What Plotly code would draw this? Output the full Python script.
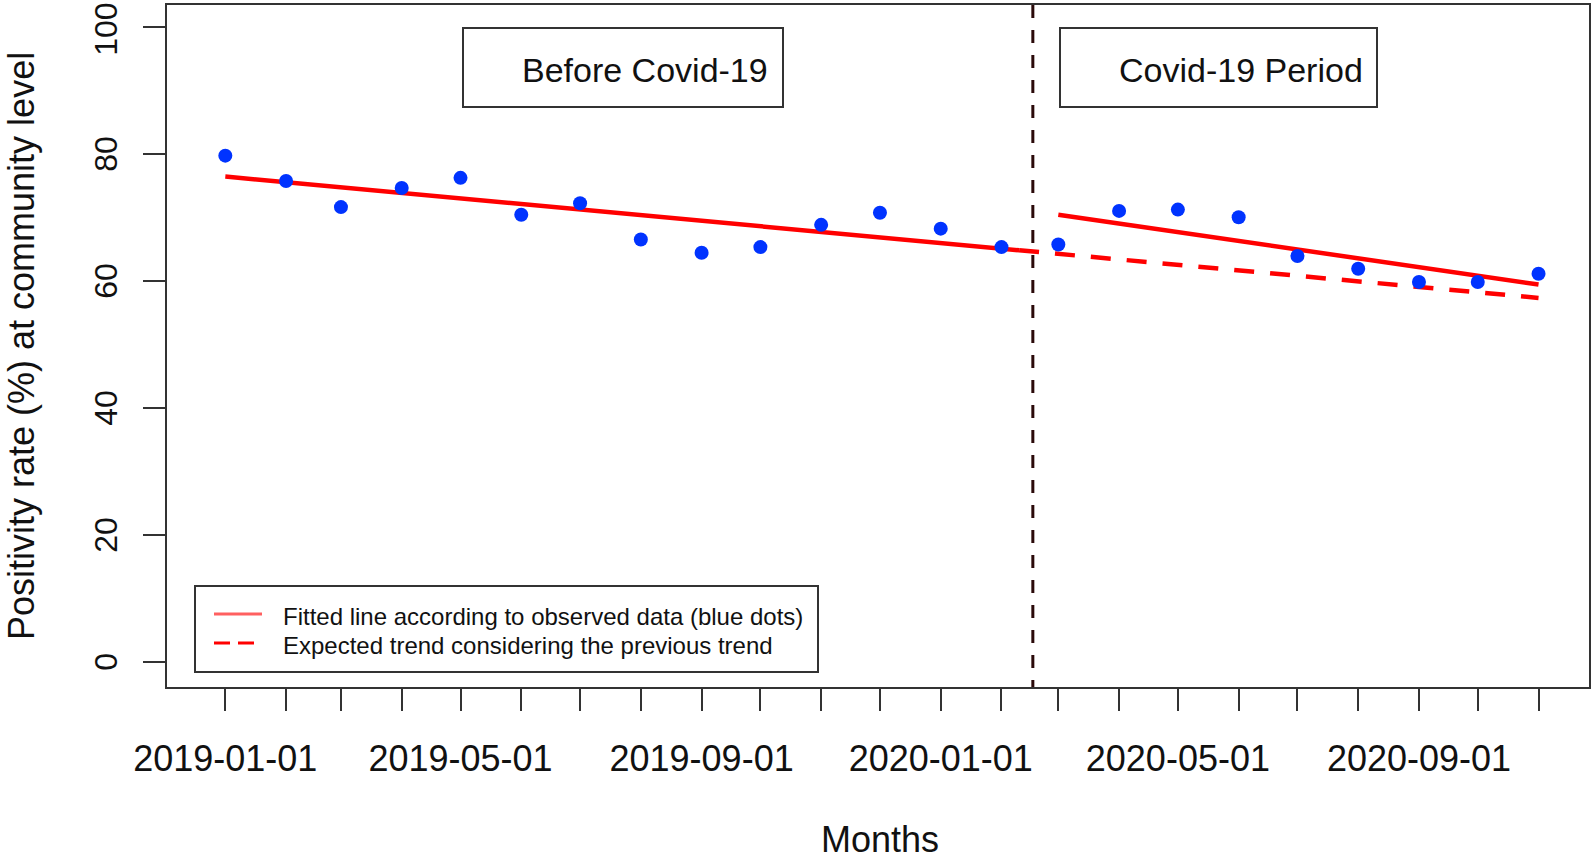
import plotly.graph_objects as go

# ---------------- data ----------------
month_dates = [
    "2019-01-01", "2019-02-01", "2019-03-01", "2019-04-01", "2019-05-01", "2019-06-01",
    "2019-07-01", "2019-08-01", "2019-09-01", "2019-10-01", "2019-11-01", "2019-12-01",
    "2020-01-01", "2020-02-01", "2020-03-01", "2020-04-01", "2020-05-01", "2020-06-01",
    "2020-07-01", "2020-08-01", "2020-09-01", "2020-10-01", "2020-11-01",
]
positivity = [
    79.7, 75.7, 71.6, 74.6, 76.2, 70.4, 72.2, 66.5, 64.4, 65.3, 68.8, 70.7,
    68.2, 65.3, 65.7, 71.0, 71.2, 70.0, 63.9, 61.9, 59.8, 59.8, 61.1,
]
tick_labels = [
    "2019-01-01", "", "", "", "2019-05-01", "", "", "", "2019-09-01", "", "", "",
    "2020-01-01", "", "", "", "2020-05-01", "", "", "", "2020-09-01", "", "",
]
y_ticks = [0, 20, 40, 60, 80, 100]
y_tick_labels = ["0", "20", "40", "60", "80", "100"]

pre_fit_dates = ["2019-01-01", "2020-02-10"]
pre_fit_values = [76.4, 64.8]
expected_dates = ["2020-02-10", "2020-11-01"]
expected_values = [64.8, 57.3]
post_fit_dates = ["2020-03-01", "2020-11-01"]
post_fit_values = [70.4, 59.4]
intervention_date = "2020-02-17"

period_labels = ["Before Covid-19", "Covid-19 Period"]
legend_labels = ["Fitted line according to observed data (blue dots)",
                 "Expected trend considering the previous trend"]

# ---------------- layout geometry ----------------
W, H = 1594, 861
L, R, T, B = 167, 1589, 5, 687
FONT = "Liberation Sans, Arial, sans-serif"
RED = "#FF0000"
AX = "#333333"


def px(x):
    return (x - L) / (R - L)


def py(y):
    return (B - y) / (B - T)


fig = go.Figure()

fig.add_trace(go.Scatter(x=pre_fit_dates, y=pre_fit_values, mode="lines",
                         line=dict(color=RED, width=4.5), showlegend=False))
fig.add_trace(go.Scatter(x=expected_dates, y=expected_values, mode="lines",
                         line=dict(color=RED, width=4.5, dash="20px,16px"), showlegend=False))
fig.add_trace(go.Scatter(x=post_fit_dates, y=post_fit_values, mode="lines",
                         line=dict(color=RED, width=4.5), showlegend=False))
fig.add_trace(go.Scatter(x=month_dates, y=positivity, mode="markers",
                         marker=dict(color="#0033FF", size=14), showlegend=False))

shapes = []
# intervention vertical line
shapes.append(dict(type="line", xref="x", yref="paper", x0=intervention_date,
                   x1=intervention_date, y0=1, y1=0,
                   line=dict(color="#2b0a0a", width=3, dash="13px,12px")))
# period boxes
for (x0, x1) in [(463, 783), (1060, 1377)]:
    shapes.append(dict(type="rect", xref="paper", yref="paper",
                       x0=px(x0), x1=px(x1), y0=py(107), y1=py(28),
                       line=dict(color=AX, width=2), fillcolor="white", layer="above"))
# legend box
shapes.append(dict(type="rect", xref="paper", yref="paper",
                   x0=px(195), x1=px(818), y0=py(672), y1=py(586),
                   line=dict(color=AX, width=2), fillcolor="white", layer="above"))
shapes.append(dict(type="line", xref="paper", yref="paper",
                   x0=px(214), x1=px(262), y0=py(614), y1=py(614),
                   line=dict(color="#FF6060", width=3), layer="above"))
shapes.append(dict(type="line", xref="paper", yref="paper",
                   x0=px(214), x1=px(262), y0=py(643), y1=py(643),
                   line=dict(color=RED, width=3, dash="16px,8px"), layer="above"))

annotations = []
for lbl, cx in zip(period_labels, [645, 1241]):
    annotations.append(dict(text=lbl, xref="paper", yref="paper", x=px(cx), y=py(70),
                            xanchor="center", yanchor="middle", showarrow=False,
                            font=dict(family=FONT, size=34, color="#111111")))
for lbl, cy in zip(legend_labels, [616, 645]):
    annotations.append(dict(text=lbl, xref="paper", yref="paper", x=px(281), y=py(cy),
                            xanchor="left", yanchor="middle", showarrow=False,
                            font=dict(family=FONT, size=24, color="#111111")))
annotations.append(dict(text="Months", xref="paper", yref="paper", x=px(880), y=py(839),
                        xanchor="center", yanchor="middle", showarrow=False,
                        font=dict(family=FONT, size=36, color="#111111")))
annotations.append(dict(text="Positivity rate (%) at community level", xref="paper",
                        yref="paper", x=px(21), y=py(346), textangle=-90,
                        xanchor="center", yanchor="middle", showarrow=False,
                        font=dict(family=FONT, size=36, color="#111111")))
# y tick labels (rotated, R style)
for val, lbl in zip(y_ticks, y_tick_labels):
    annotations.append(dict(text=lbl, xref="paper", yref="y", x=px(106), y=val,
                            textangle=-90, xanchor="center", yanchor="middle",
                            showarrow=False, borderpad=0,
                            yshift=-3 if val == 100 else 0,
                            font=dict(family=FONT, size=32, color="#111111")))

fig.update_layout(
    width=W, height=H, autosize=False,
    margin=dict(l=L, r=W - R, t=T, b=H - B, pad=0, autoexpand=False),
    paper_bgcolor="white", plot_bgcolor="white",
    shapes=shapes, annotations=annotations, showlegend=False,
    font=dict(family=FONT, color="#111111"),
)
fig.update_xaxes(
    type="date", range=["2018-12-02 06:00", "2020-11-26 18:00"],
    tickmode="array", tickvals=month_dates, ticktext=tick_labels,
    ticks="outside", ticklen=22, tickwidth=2, tickcolor=AX,
    showline=True, mirror=True, linecolor=AX, linewidth=2,
    showgrid=False, zeroline=False, automargin=False,
    tickfont=dict(family=FONT, size=36, color="#111111"),
    ticklabelstandoff=17,
)
fig.update_yaxes(
    range=[-3.97, 103.42], tickmode="array", tickvals=y_ticks,
    showticklabels=False,
    ticks="outside", ticklen=22, tickwidth=2, tickcolor=AX,
    showline=True, mirror=True, linecolor=AX, linewidth=2,
    showgrid=False, zeroline=False, automargin=False,
)

fig.write_html("out.html", config={"displayModeBar": False},
               post_script="document.body.style.margin='0';")
